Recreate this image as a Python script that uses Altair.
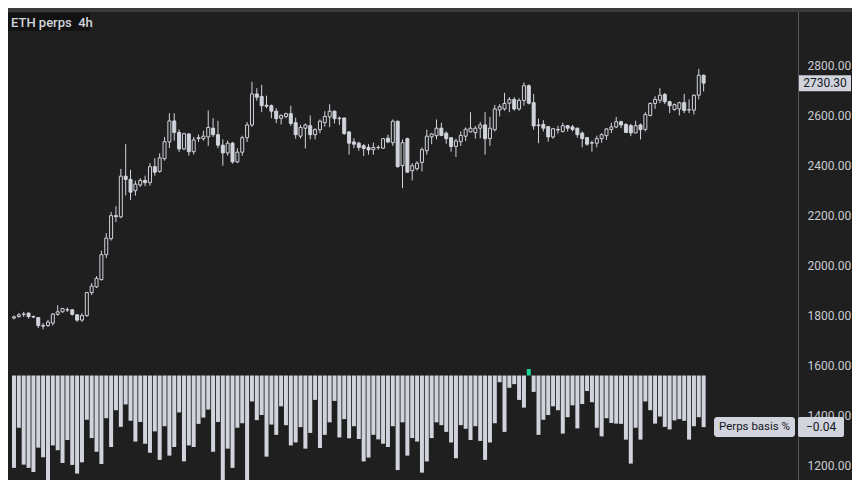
import altair as alt
import pandas as pd

# ---------------- data ----------------
opens = [1790, 1796, 1805, 1810, 1796, 1792, 1760, 1760, 1770, 1805, 1815, 1822, 1823, 1803, 1782, 1800,
         1892, 1915, 1944, 2044, 2108, 2200, 2195, 2358, 2345, 2300, 2323, 2341, 2332, 2396, 2377, 2428,
         2495, 2579, 2533, 2467, 2527, 2456, 2508, 2508, 2515, 2550, 2524, 2482, 2451, 2490, 2415, 2454,
         2512, 2563, 2687, 2677, 2642, 2640, 2618, 2590, 2597, 2608, 2572, 2518, 2550, 2560, 2524, 2544,
         2572, 2595, 2618, 2590, 2591, 2535, 2495, 2490, 2480, 2473, 2464, 2472, 2470, 2510, 2492, 2578,
         2400, 2508, 2380, 2388, 2413, 2460, 2515, 2520, 2550, 2530, 2512, 2477, 2496, 2518, 2535, 2532,
         2550, 2563, 2508, 2544, 2623, 2627, 2650, 2665, 2627, 2661, 2720, 2652, 2560, 2565, 2556, 2515,
         2545, 2537, 2560, 2555, 2550, 2530, 2512, 2490, 2490, 2508, 2520, 2545, 2555, 2576, 2565, 2560,
         2531, 2563, 2545, 2601, 2649, 2662, 2685, 2656, 2625, 2627, 2652, 2623, 2622, 2682, 2762]
highs = [1800, 1810, 1815, 1812, 1800, 1794, 1770, 1783, 1810, 1841, 1830, 1832, 1826, 1806, 1810, 1895,
         1930, 1958, 2060, 2130, 2215, 2238, 2387, 2486, 2383, 2340, 2350, 2360, 2410, 2430, 2450, 2515,
         2610, 2610, 2545, 2532, 2530, 2515, 2525, 2540, 2621, 2590, 2580, 2505, 2500, 2495, 2470, 2520,
         2575, 2736, 2710, 2723, 2680, 2645, 2630, 2605, 2612, 2640, 2592, 2563, 2569, 2601, 2550, 2585,
         2618, 2646, 2621, 2597, 2592, 2538, 2510, 2496, 2486, 2486, 2492, 2482, 2510, 2524, 2585, 2580,
         2505, 2512, 2410, 2418, 2473, 2544, 2531, 2585, 2572, 2537, 2512, 2508, 2537, 2553, 2614, 2559,
         2575, 2614, 2595, 2643, 2646, 2691, 2674, 2674, 2670, 2733, 2725, 2687, 2588, 2582, 2558, 2550,
         2560, 2572, 2563, 2563, 2552, 2537, 2515, 2500, 2520, 2530, 2550, 2572, 2595, 2580, 2570, 2567,
         2580, 2569, 2614, 2653, 2678, 2710, 2691, 2659, 2649, 2656, 2687, 2665, 2685, 2787, 2764]
lows = [1785, 1792, 1795, 1788, 1790, 1750, 1745, 1755, 1760, 1800, 1812, 1815, 1800, 1775, 1775, 1795,
        1882, 1910, 1940, 2030, 2100, 2174, 2190, 2281, 2262, 2280, 2315, 2318, 2320, 2360, 2372, 2420,
        2470, 2500, 2455, 2462, 2440, 2445, 2495, 2500, 2479, 2515, 2470, 2400, 2440, 2408, 2410, 2440,
        2495, 2555, 2660, 2614, 2630, 2590, 2570, 2565, 2590, 2559, 2508, 2508, 2469, 2505, 2505, 2530,
        2556, 2554, 2569, 2563, 2524, 2444, 2470, 2460, 2438, 2444, 2444, 2464, 2467, 2490, 2479, 2392,
        2310, 2372, 2341, 2380, 2377, 2444, 2486, 2505, 2518, 2488, 2456, 2435, 2479, 2499, 2534, 2508,
        2510, 2444, 2479, 2537, 2597, 2620, 2614, 2620, 2620, 2640, 2645, 2544, 2490, 2537, 2496, 2508,
        2528, 2533, 2537, 2537, 2512, 2473, 2480, 2456, 2473, 2492, 2503, 2530, 2550, 2550, 2530, 2518,
        2531, 2505, 2537, 2597, 2627, 2650, 2646, 2610, 2620, 2601, 2610, 2610, 2605, 2665, 2697]
closes = [1795, 1803, 1806, 1796, 1794, 1760, 1758, 1774, 1806, 1815, 1828, 1824, 1805, 1782, 1800, 1892,
          1918, 1949, 2044, 2110, 2200, 2196, 2358, 2345, 2294, 2326, 2341, 2332, 2396, 2374, 2431, 2496,
          2579, 2533, 2467, 2528, 2456, 2503, 2512, 2518, 2553, 2524, 2482, 2451, 2490, 2415, 2454, 2512,
          2563, 2687, 2674, 2640, 2638, 2618, 2588, 2601, 2608, 2569, 2524, 2553, 2563, 2524, 2544, 2578,
          2597, 2618, 2588, 2588, 2528, 2490, 2486, 2473, 2469, 2463, 2473, 2473, 2508, 2495, 2578, 2396,
          2492, 2374, 2400, 2410, 2464, 2518, 2527, 2550, 2521, 2508, 2477, 2499, 2521, 2546, 2550, 2550,
          2563, 2508, 2550, 2627, 2636, 2649, 2665, 2627, 2661, 2720, 2650, 2559, 2563, 2550, 2515, 2548,
          2543, 2560, 2550, 2545, 2524, 2508, 2486, 2492, 2508, 2524, 2547, 2555, 2576, 2563, 2533, 2531,
          2560, 2544, 2605, 2649, 2665, 2682, 2656, 2640, 2644, 2652, 2621, 2624, 2682, 2762, 2730.30]
basis = [-0.0716, -0.0405, -0.0691, -0.0716, -0.0748, -0.0559, -0.0634, -0.085, -0.0542, -0.0579,
         -0.0678, -0.0500, -0.0693, -0.0760, -0.0673, -0.0343, -0.0485, -0.0591, -0.0686, -0.0331,
         -0.0554, -0.0269, -0.0398, -0.0224, -0.0351, -0.0512, -0.0360, -0.0529, -0.0599, -0.0433,
         -0.0654, -0.0393, -0.0621, -0.0554, -0.0286, -0.0666, -0.0542, -0.0554, -0.0375, -0.0326,
         -0.0264, -0.0591, -0.0360, -0.085, -0.0567, -0.0716, -0.0405, -0.0370, -0.085, -0.0201,
         -0.0346, -0.0306, -0.0629, -0.0380, -0.0460, -0.0239,
         -0.0385, -0.0542, -0.0519, -0.0400, -0.0567, -0.0445, -0.0189, -0.0562, -0.0460, -0.0363,
         -0.0197, -0.0480, -0.0338, -0.0487, -0.0393, -0.0492, -0.0666, -0.0636, -0.0460, -0.0495,
         -0.0529, -0.0554, -0.0393, -0.0733, -0.0363, -0.0621, -0.0485, -0.0512, -0.0753, -0.0666,
         -0.0485, -0.0363, -0.0385, -0.0437, -0.0519, -0.0641, -0.0385, -0.0413, -0.0500, -0.0393,
         -0.0507, -0.0654, -0.0519, -0.0370, -0.0052, -0.0437, -0.0095, -0.0067, -0.0189, -0.0249,
         0.005, -0.0127,
         -0.0460, -0.0343, -0.0306, -0.0239, -0.0269, -0.0450, -0.0323, -0.0231, -0.0410, -0.0221,
         -0.0120, -0.0207, -0.0405, -0.0472, -0.0331, -0.0368, -0.0373, -0.0375, -0.0497, -0.0683,
         -0.0405, -0.0497, -0.0201, -0.0269, -0.0373, -0.0318, -0.0398, -0.0418, -0.0348, -0.0338,
         -0.0351, -0.0497, -0.0393, -0.0323, -0.0400]
price_ticks = [1200, 1400, 1600, 1800, 2000, 2200, 2400, 2600, 2800]
title_text = "ETH perps\u00a0\u00a04h"
basis_name = "Perps basis %"

# ---------------- layout ----------------
W, H = 790, 472
BG = "#1f1f1f"
LIGHT = "#d1d4dc"
PRICE_DOM = [1142, 3031]
BASIS_DOM = [-0.081, 0.2849]
X_DOM = [-0.2, 160.4]

n = len(closes)
df = pd.DataFrame({"i": list(range(n)), "open": opens, "high": highs, "low": lows,
                   "close": closes, "basis": basis})

xenc = alt.X("i:Q", scale=alt.Scale(domain=X_DOM, nice=False, zero=False), axis=None)
pscale = alt.Scale(domain=PRICE_DOM, nice=False, zero=False)
bscale = alt.Scale(domain=BASIS_DOM, nice=False, zero=False)

base = alt.Chart(df)

bars = base.mark_bar(size=4, clip=True).encode(
    x=xenc,
    y=alt.Y("basis:Q", scale=bscale, axis=None),
    y2=alt.datum(0),
    color=alt.condition("datum.basis > 0", alt.value("#1ed39b"), alt.value(LIGHT)),
)

wicks = base.mark_rule(strokeWidth=1, color=LIGHT).encode(
    x=xenc,
    y=alt.Y("low:Q", scale=pscale, axis=alt.Axis(
        orient="right", values=price_ticks, format=".2f", grid=False, ticks=False, title=None,
        domain=True, domainColor="#55585e", labelColor="#c9ccd3", labelFontSize=12,
        labelFont="Roboto", labelPadding=9)),
    y2="high:Q",
)

bodies = base.mark_bar(size=3, stroke=LIGHT, strokeWidth=1).encode(
    x=xenc,
    y=alt.Y("open:Q", scale=pscale, axis=None),
    y2="close:Q",
    fill=alt.condition("datum.close >= datum.open", alt.value(BG), alt.value(LIGHT)),
)

# last price tag
last_p = closes[-1]
p_half = 8 * (PRICE_DOM[1] - PRICE_DOM[0]) / H
last_df = pd.DataFrame({"p": [last_p], "lo": [last_p - p_half], "hi": [last_p + p_half],
                        "label": [f"{last_p:.2f}"]})
price_tag = alt.Chart(last_df).mark_rect(color=LIGHT).encode(
    x=alt.value(W + 1), x2=alt.value(W + 53),
    y=alt.Y("lo:Q", scale=pscale, axis=None), y2="hi:Q")
price_txt = alt.Chart(last_df).mark_text(color="#131722", fontSize=12, font="Roboto",
                                         align="center", baseline="middle").encode(
    x=alt.value(W + 27), y=alt.Y("p:Q", scale=pscale, axis=None), text="label:N")

# basis tag
last_b = basis[-1]
b_half = 10 * (BASIS_DOM[1] - BASIS_DOM[0]) / H
bdf = pd.DataFrame({"b": [last_b], "lo": [last_b - b_half], "hi": [last_b + b_half],
                    "name": [basis_name], "val": ["\u2212" + f"{abs(last_b):.2f}"]})
b_box1 = alt.Chart(bdf).mark_rect(color=LIGHT, cornerRadius=3).encode(
    x=alt.value(706), x2=alt.value(787),
    y=alt.Y("lo:Q", scale=bscale, axis=None), y2="hi:Q")
b_box2 = alt.Chart(bdf).mark_rect(color=LIGHT, cornerRadius=2).encode(
    x=alt.value(W), x2=alt.value(W + 46),
    y=alt.Y("lo:Q", scale=bscale, axis=None), y2="hi:Q")
b_txt1 = alt.Chart(bdf).mark_text(color="#131722", fontSize=11.5, font="Roboto",
                                  align="center", baseline="middle").encode(
    x=alt.value(746.5), y=alt.Y("b:Q", scale=bscale, axis=None), text="name:N")
b_txt2 = alt.Chart(bdf).mark_text(color="#131722", fontSize=12, font="Roboto",
                                  align="center", baseline="middle").encode(
    x=alt.value(W + 23), y=alt.Y("b:Q", scale=bscale, axis=None), text="val:N")

# top strip and title box
strip = alt.Chart(pd.DataFrame({"k": [0]})).mark_rect(color="#3a3b3d").encode(
    x=alt.value(0), x2=alt.value(844), y=alt.value(0), y2=alt.value(4))
tbox = alt.Chart(pd.DataFrame({"t": [title_text]})).mark_rect(color="#121212").encode(
    x=alt.value(0), x2=alt.value(82), y=alt.value(5), y2=alt.value(23))
ttxt = alt.Chart(pd.DataFrame({"t": [title_text]})).mark_text(
    color=LIGHT, fontSize=13, font="Roboto", fontWeight=500, align="left", baseline="middle").encode(
    x=alt.value(3), y=alt.value(14.5), text="t:N")

chart = alt.layer(
    bars, wicks, bodies, price_tag, price_txt, b_box1, b_box2, b_txt1, b_txt2, strip, tbox, ttxt
).resolve_scale(y="independent").properties(
    width=W, height=H, padding=0, background=BG
).configure_view(stroke=None, fill=BG)

chart.save("out.html", embed_options={"renderer": "svg", "actions": False})
